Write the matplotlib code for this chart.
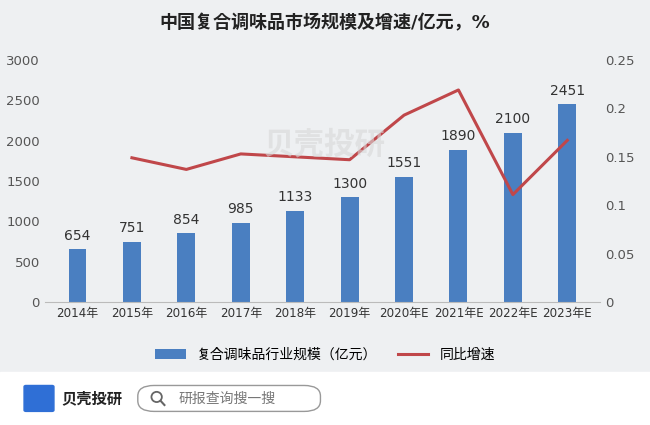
import matplotlib
matplotlib.use("Agg")
import matplotlib.pyplot as plt
from matplotlib.patches import FancyBboxPatch, Rectangle, Ellipse
from matplotlib.lines import Line2D

plt.rcParams["font.family"] = ["DejaVu Sans", "Noto Sans CJK SC", "Noto Sans CJK JP"]

years = ["2014年", "2015年", "2016年", "2017年", "2018年", "2019年", "2020年E", "2021年E", "2022年E", "2023年E"]
scale = [654, 751, 854, 985, 1133, 1300, 1551, 1890, 2100, 2451]
growth = [None, 0.149, 0.137, 0.153, 0.150, 0.147, 0.193, 0.219, 0.111, 0.167]

fig = plt.figure(figsize=(6.5, 4.25), dpi=100)
fig.patch.set_facecolor("#eef0f2")
fig.add_artist(Rectangle((0, 0), 1, 0.125, transform=fig.transFigure, color="white", zorder=0))

ax = fig.add_axes([0.069, 0.289, 0.854, 0.57])
ax.set_facecolor("none")
x = list(range(len(years)))
ax.bar(x, scale, width=0.33, color="#4a7fc1", label="复合调味品行业规模（亿元）", zorder=2)
for xi, v in zip(x, scale):
    ax.text(xi, v + 80, str(v), ha="center", va="bottom", fontsize=10, color="#333333")
ax.set_ylim(0, 3000)
ax.set_yticks(range(0, 3001, 500))
ax.set_xlim(-0.6, 9.6)
ax.set_xticks(x)
ax.set_xticklabels(years, fontsize=8.6, color="#333333")
ax.tick_params(axis="y", labelsize=9.5, colors="#555555", length=0)
ax.tick_params(axis="x", length=0)
for s in ["top", "right", "left"]:
    ax.spines[s].set_visible(False)
ax.spines["bottom"].set_color("#bbbbbb")

ax2 = ax.twinx()
gx = [xi for xi, g in zip(x, growth) if g is not None]
gy = [g for g in growth if g is not None]
ax2.plot(gx, gy, color="#c0474a", lw=2.2, label="同比增速", zorder=3)
ax2.set_ylim(0, 0.25)
ax2.set_yticks([0, 0.05, 0.1, 0.15, 0.2, 0.25])
ax2.set_yticklabels(["0", "0.05", "0.1", "0.15", "0.2", "0.25"])
ax2.tick_params(axis="y", labelsize=9.5, colors="#555555", length=0)
for s in ["top", "right", "left", "bottom"]:
    ax2.spines[s].set_visible(False)

h1, l1 = ax.get_legend_handles_labels()
h2, l2 = ax2.get_legend_handles_labels()
fig.legend(h1 + h2, l1 + l2, loc="center", bbox_to_anchor=(0.5, 0.165), ncol=2,
           frameon=False, fontsize=10, handlelength=2.2, columnspacing=1.5)

fig.text(0.5, 0.945, "中国复合调味品市场规模及增速/亿元，%", ha="center", va="center",
         fontsize=13, fontweight="bold", color="#222222")

fig.text(0.5, 0.66, "贝壳投研", fontsize=22, color="#d8d8d8", alpha=0.6, ha="center", va="center",
         fontweight="bold", zorder=1)

fig.add_artist(FancyBboxPatch((0.04, 0.035), 0.04, 0.055, boxstyle="round,pad=0.003",
                              transform=fig.transFigure, color="#2f6fd6"))
fig.text(0.095, 0.062, "贝壳投研", fontsize=11, fontweight="bold", color="#222222", va="center")
fig.add_artist(FancyBboxPatch((0.215, 0.035), 0.275, 0.055, boxstyle="round,pad=0.003,rounding_size=0.025",
                              transform=fig.transFigure, facecolor="white", edgecolor="#999999", lw=1))
fig.add_artist(Ellipse((0.241, 0.066), 0.016, 0.024, transform=fig.transFigure, fill=False,
                       edgecolor="#666666", lw=1.3))
fig.add_artist(Line2D([0.247, 0.253], [0.057, 0.047], transform=fig.transFigure, color="#666666", lw=1.5))
fig.text(0.275, 0.062, "研报查询搜一搜", fontsize=10, color="#777777", va="center")

fig.savefig("out.png", dpi=100, facecolor=fig.get_facecolor())
